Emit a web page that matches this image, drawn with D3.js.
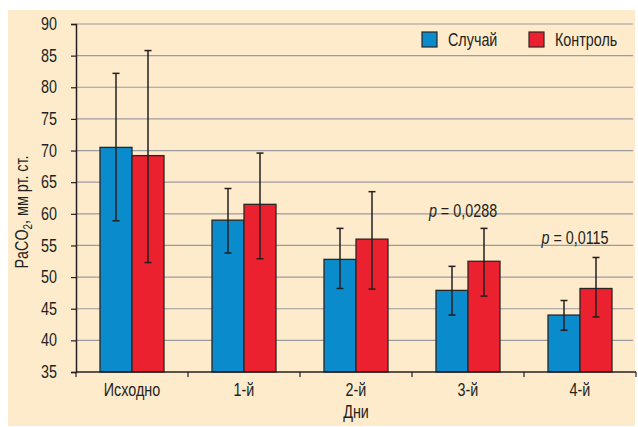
<!DOCTYPE html>
<html>
<head>
<meta charset="utf-8">
<script src="https://cdn.jsdelivr.net/npm/d3@7"></script>
<style>
  body { margin: 0; background: #fff; }
  svg { display: block; }
  text { font-family: "Liberation Sans", Arial, sans-serif; fill: #231f20; }
</style>
</head>
<body>
<div id="container"></div>
<script>
let w = 638;
let h = 427;

// data
let days = ["Исходно", "1-й", "2-й", "3-й", "4-й"];
let seriesNames = ["Случай", "Контроль"];
let caseMean = [70.5, 59.0, 52.8, 47.9, 44.0];
let caseLow = [58.9, 53.8, 48.2, 44.0, 41.6];
let caseHigh = [82.2, 64.0, 57.7, 51.7, 46.3];
let ctrlMean = [69.2, 61.5, 56.0, 52.5, 48.2];
let ctrlLow = [52.3, 52.9, 48.1, 47.0, 43.7];
let ctrlHigh = [85.8, 69.6, 63.5, 57.7, 53.1];
let yTicks = [35, 40, 45, 50, 55, 60, 65, 70, 75, 80, 85, 90];
let pLabels = [{day: "3-й", value: 59.5, text: "0,0288"}, {day: "4-й", value: 55.3, text: "0,0115"}];

let colors = ["#0a8bcc", "#ec2130"];
let sx = 0.82; // squeeze text like a narrow font

let viz = d3.select("#container").append("svg")
    .attr("width", w)
    .attr("height", h);

// cream panel
viz.append("rect")
    .attr("x", 8).attr("y", 10)
    .attr("width", 627).attr("height", 416)
    .attr("fill", "#fdebcc");

let plotL = 76, plotR = 636, plotT = 24, plotB = 372;

let x = d3.scaleBand().domain(days).range([plotL, plotR]).paddingInner(0).paddingOuter(0);
let xs = d3.scaleBand().domain(seriesNames).range([0, x.bandwidth()]).paddingInner(0).paddingOuter(0.75);
let y = d3.scaleLinear().domain([35, 90]).range([plotB, plotT]);

// grid
viz.append("g").selectAll("line").data(yTicks.slice(1)).enter()
    .append("line")
    .attr("x1", plotL).attr("x2", 633)
    .attr("y1", d => y(d)).attr("y2", d => y(d))
    .attr("stroke", "#9b9b9f")
    .attr("stroke-width", 1.2);

// bars
let rows = days.map((d, i) => [
  {day: d, s: seriesNames[0], v: caseMean[i], lo: caseLow[i], hi: caseHigh[i], c: colors[0]},
  {day: d, s: seriesNames[1], v: ctrlMean[i], lo: ctrlLow[i], hi: ctrlHigh[i], c: colors[1]}
]).flat();

let groups = viz.append("g");
groups.selectAll("rect").data(rows).enter()
    .append("rect")
    .attr("x", d => x(d.day) + xs(d.s))
    .attr("y", d => y(d.v))
    .attr("width", xs.bandwidth())
    .attr("height", d => y(35) - y(d.v))
    .attr("fill", d => d.c)
    .attr("stroke", "#2b2523")
    .attr("stroke-width", 1.3);

// error bars
let err = viz.append("g").attr("stroke", "#231f20").attr("stroke-width", 1.5);
rows.forEach(function(d) {
  let cx = x(d.day) + xs(d.s) + xs.bandwidth() / 2;
  err.append("line").attr("x1", cx).attr("x2", cx).attr("y1", y(d.lo)).attr("y2", y(d.hi));
  err.append("line").attr("x1", cx - 3.5).attr("x2", cx + 3.5).attr("y1", y(d.lo)).attr("y2", y(d.lo));
  err.append("line").attr("x1", cx - 3.5).attr("x2", cx + 3.5).attr("y1", y(d.hi)).attr("y2", y(d.hi));
});

// y axis
let yAxis = viz.append("g")
    .attr("transform", "translate(" + plotL + ",0)")
    .call(d3.axisLeft(y).tickValues(yTicks).tickSize(5).tickPadding(14));
yAxis.select(".domain").attr("stroke", "#231f20").attr("stroke-width", 1.5);
yAxis.selectAll(".tick line").attr("stroke", "#231f20").attr("stroke-width", 1.2);
yAxis.selectAll("text")
    .attr("font-size", 17.5)
    .style("font-family", "Liberation Sans, Arial, sans-serif")
    .attr("fill", "#231f20")
    .attr("x", -19 / sx)
    .attr("transform", "scale(" + sx + ",1)");

// x axis
let xAxis = viz.append("g")
    .attr("transform", "translate(0," + plotB + ")");
xAxis.append("line").attr("x1", plotL).attr("x2", plotR).attr("stroke", "#231f20").attr("stroke-width", 1.5);
xAxis.selectAll(".xt").data(days.concat(["end"])).enter()
    .append("line")
    .attr("class", "xt")
    .attr("x1", (d, i) => plotL + i * x.bandwidth())
    .attr("x2", (d, i) => plotL + i * x.bandwidth())
    .attr("y1", 0).attr("y2", 5)
    .attr("stroke", "#231f20").attr("stroke-width", 1.2);
xAxis.selectAll("text").data(days).enter()
    .append("text")
    .attr("x", d => (x(d) + x.bandwidth() / 2) / sx)
    .attr("y", 24)
    .attr("transform", "scale(" + sx + ",1)")
    .attr("text-anchor", "middle")
    .attr("font-size", 17.5)
    .text(d => d);

// axis titles
viz.append("text")
    .attr("x", (plotL + plotR) / 2 / sx)
    .attr("y", 418)
    .attr("transform", "scale(" + sx + ",1)")
    .attr("text-anchor", "middle")
    .attr("font-size", 17.5)
    .text("Дни");

let yt = viz.append("text")
    .attr("transform", "translate(28,212) rotate(-90) scale(" + sx + ",1)")
    .attr("text-anchor", "middle")
    .attr("font-size", 17.5);
yt.append("tspan").text("PaCO");
yt.append("tspan").attr("font-size", 12).attr("dy", 4).text("2");
yt.append("tspan").attr("dy", -4).text(", мм рт. ст.");

// p values
pLabels.forEach(function(p) {
  let t = viz.append("text")
      .attr("x", (x(p.day) + x.bandwidth() / 2 - 5) / sx)
      .attr("y", y(p.value))
      .attr("transform", "scale(" + sx + ",1)")
      .attr("text-anchor", "middle")
      .attr("font-size", 17.5);
  t.append("tspan").attr("font-style", "italic").text("p");
  t.append("tspan").text(" = " + p.text);
});

// legend
let legend = viz.append("g");
let legX = [422, 529];
seriesNames.forEach(function(s, i) {
  legend.append("rect")
      .attr("x", legX[i]).attr("y", 32)
      .attr("width", 15).attr("height", 15)
      .attr("fill", colors[i])
      .attr("stroke", "#2b2523").attr("stroke-width", 1.2);
  legend.append("text")
      .attr("x", (legX[i] + 26) / sx).attr("y", 46)
      .attr("transform", "scale(" + sx + ",1)")
      .attr("font-size", 17.5)
      .text(s);
});
</script>
</body>
</html>
